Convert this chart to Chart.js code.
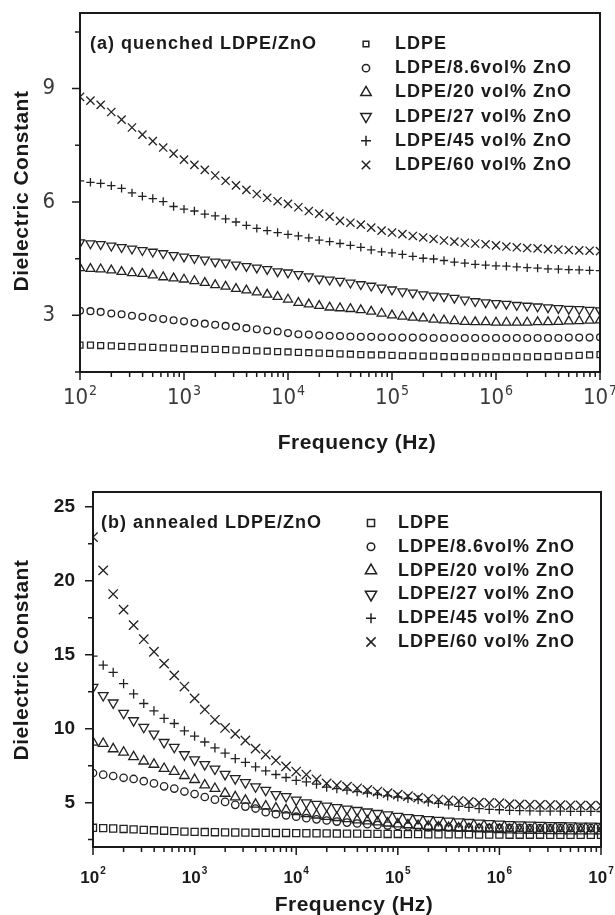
<!DOCTYPE html>
<html lang="en">
<head>
<meta charset="UTF-8">
<title>Dielectric constant of LDPE/ZnO vs frequency</title>
<script src="https://cdn.jsdelivr.net/npm/chart.js"></script>
<style>
  body { margin: 0; background: #fff; width: 615px; height: 915px; overflow: hidden; position: relative; }
  .panel { position: absolute; left: 0; width: 615px; }
  #panelA { top: 0; height: 460px; }
  #panelB { top: 460px; height: 455px; }
</style>
</head>
<body>
<div class="panel" id="panelA"><canvas id="chartA"></canvas></div>
<div class="panel" id="panelB"><canvas id="chartB"></canvas></div>

<script>
// measurement frequencies (Hz), 10 per decade from 1e2 to 1e7
const frequencies = [
  100, 126, 158, 200, 251, 316, 398, 501, 631, 794,
  1000, 1259, 1585, 1995, 2512, 3162, 3981, 5012, 6310, 7943,
  10000, 12589, 15849, 19953, 25119, 31623, 39811, 50119, 63096, 79433,
  100000, 125893, 158489, 199526, 251189, 316228, 398107, 501187, 630957, 794328,
  1000000, 1258925, 1584893, 1995262, 2511886, 3162278, 3981072, 5011872, 6309573, 7943282,
  10000000
];

const seriesLabels = ['LDPE', 'LDPE/8.6vol% ZnO', 'LDPE/20 vol% ZnO', 'LDPE/27 vol% ZnO', 'LDPE/45 vol% ZnO', 'LDPE/60 vol% ZnO'];
const pointStyles = ['rect', 'circle', 'triangle', 'triangle', 'cross', 'crossRot'];
const pointRotations = [0, 0, 0, 180, 0, 0];

// (a) quenched
const quenched0 = [2.21,2.21,2.20,2.19,2.18,2.17,2.16,2.15,2.14,2.13, 2.12,2.11,2.10,2.10,2.09,2.08,2.07,2.06,2.05,2.04, 2.03,2.02,2.01,2.00,1.99,1.98,1.97,1.96,1.95,1.95, 1.94,1.93,1.93,1.92,1.92,1.91,1.91,1.91,1.90,1.90, 1.90,1.90,1.90,1.90,1.91,1.91,1.92,1.93,1.94,1.95, 1.96];
const quenched86 = [3.12,3.11,3.09,3.05,3.03,2.99,2.96,2.93,2.90,2.87, 2.84,2.80,2.78,2.75,2.72,2.70,2.66,2.63,2.60,2.57, 2.53,2.50,2.49,2.47,2.46,2.45,2.44,2.43,2.43,2.42, 2.42,2.41,2.41,2.41,2.40,2.40,2.40,2.40,2.40,2.40, 2.40,2.40,2.40,2.40,2.40,2.40,2.40,2.41,2.41,2.41, 2.42];
const quenched20 = [4.25,4.23,4.22,4.19,4.15,4.12,4.10,4.06,4.01,3.98, 3.95,3.91,3.86,3.80,3.76,3.70,3.66,3.61,3.55,3.49, 3.42,3.33,3.29,3.25,3.21,3.19,3.17,3.14,3.10,3.05, 3.00,2.97,2.94,2.92,2.89,2.87,2.85,2.83,2.82,2.82, 2.81,2.81,2.81,2.81,2.82,2.82,2.83,2.84,2.85,2.86, 2.87];
const quenched27 = [4.93,4.90,4.88,4.84,4.80,4.76,4.72,4.68,4.64,4.59, 4.55,4.51,4.47,4.42,4.39,4.34,4.30,4.26,4.22,4.16, 4.13,4.09,4.03,3.97,3.94,3.91,3.86,3.82,3.78,3.73, 3.68,3.63,3.60,3.55,3.52,3.50,3.46,3.41,3.37,3.34, 3.32,3.30,3.27,3.25,3.23,3.21,3.19,3.17,3.16,3.14, 3.13];
const quenched45 = [6.56,6.52,6.49,6.43,6.36,6.24,6.15,6.09,6.01,5.88, 5.81,5.76,5.68,5.63,5.55,5.47,5.38,5.30,5.24,5.19, 5.14,5.10,5.05,4.99,4.95,4.90,4.85,4.80,4.73,4.68, 4.65,4.61,4.56,4.51,4.49,4.45,4.41,4.38,4.35,4.33, 4.31,4.30,4.28,4.26,4.25,4.23,4.22,4.21,4.20,4.19, 4.18];
const quenched60 = [8.78,8.68,8.57,8.38,8.18,7.97,7.78,7.61,7.44,7.28, 7.12,6.98,6.85,6.70,6.56,6.44,6.32,6.21,6.11,6.02, 5.95,5.86,5.76,5.69,5.61,5.50,5.45,5.40,5.32,5.24, 5.19,5.15,5.10,5.06,5.02,4.98,4.95,4.92,4.90,4.88, 4.85,4.82,4.80,4.78,4.77,4.75,4.74,4.73,4.72,4.71, 4.70];

// (b) annealed
const annealed0 = [3.30,3.28,3.25,3.22,3.19,3.16,3.13,3.10,3.07,3.04, 3.02,3.01,3.00,2.99,2.98,2.97,2.96,2.96,2.95,2.95, 2.94,2.93,2.93,2.92,2.91,2.90,2.90,2.89,2.89,2.88, 2.88,2.87,2.87,2.86,2.86,2.85,2.85,2.85,2.84,2.84, 2.84,2.83,2.83,2.83,2.83,2.82,2.82,2.82,2.82,2.82, 2.82];
const annealed86 = [7.00,6.89,6.80,6.68,6.60,6.45,6.30,6.10,5.95,5.75, 5.58,5.38,5.20,5.05,4.85,4.73,4.60,4.35,4.22,4.14, 4.05,3.95,3.87,3.79,3.72,3.65,3.59,3.54,3.49,3.45, 3.42,3.39,3.37,3.35,3.34,3.33,3.32,3.31,3.30,3.30, 3.29,3.29,3.29,3.28,3.28,3.28,3.28,3.28,3.28,3.28, 3.28];
const annealed20 = [9.07,8.99,8.63,8.40,8.09,7.80,7.58,7.30,7.10,6.82, 6.55,6.18,5.95,5.62,5.38,5.15,4.88,4.76,4.62,4.50, 4.38,4.25,4.15,4.06,3.98,3.90,3.82,3.75,3.68,3.61, 3.55,3.49,3.44,3.39,3.35,3.31,3.27,3.24,3.21,3.19, 3.17,3.15,3.13,3.12,3.11,3.10,3.09,3.08,3.08,3.07, 3.07];
const annealed27 = [12.80,12.25,11.75,11.05,10.55,10.10,9.65,9.08,8.75,8.25, 7.90,7.58,7.28,6.92,6.63,6.36,6.08,5.84,5.55,5.42, 5.18,5.00,4.90,4.78,4.68,4.58,4.48,4.38,4.28,4.18, 4.08,4.00,3.93,3.87,3.81,3.76,3.71,3.67,3.63,3.59, 3.56,3.53,3.51,3.49,3.47,3.46,3.45,3.44,3.43,3.42, 3.41];
const annealed45 = [14.90,14.30,13.80,13.05,12.35,11.70,11.20,10.70,10.35,9.85, 9.50,9.10,8.70,8.35,7.98,7.72,7.42,7.15,6.90,6.70, 6.50,6.40,6.25,6.05,5.95,5.85,5.75,5.65,5.55,5.45, 5.38,5.28,5.20,5.05,4.95,4.85,4.75,4.68,4.60,4.55, 4.52,4.48,4.46,4.44,4.43,4.42,4.42,4.41,4.41,4.41, 4.40];
const annealed60 = [22.95,20.70,19.10,18.05,17.00,16.05,15.20,14.40,13.60,12.85, 12.05,11.30,10.60,10.05,9.65,9.20,8.65,8.25,7.85,7.45, 7.10,6.90,6.58,6.30,6.18,6.08,5.97,5.86,5.75,5.64, 5.54,5.44,5.34,5.26,5.21,5.16,5.11,5.05,5.00,4.98, 4.96,4.90,4.88,4.86,4.85,4.84,4.83,4.82,4.81,4.80, 4.79];

// axis ticks
const xMajorTicks = [1e2, 1e3, 1e4, 1e5, 1e6, 1e7];
const xTickExponents = ['2', '3', '4', '5', '6', '7'];
const quenchedYTicks = [3, 6, 9];
const quenchedYMinor = [1.5, 4.5, 7.5, 10.5];
const annealedYTicks = [5, 10, 15, 20, 25];
const annealedYMinor = [2.5, 7.5, 12.5, 17.5, 22.5];

const INK = '#1a1a1a';
const MARK = '#222';
const SANS = '"Liberation Sans", Arial, Helvetica, sans-serif';
const NARROW = '"Liberation Sans Narrow", "DejaVu Sans Condensed", "Liberation Sans", sans-serif';

function decorations(p) {
  return {
    id: 'decorations',
    afterDraw(chart) {
      const ctx = chart.ctx;
      const a = chart.chartArea;
      const xs = chart.scales.x;
      const ys = chart.scales.y;
      ctx.save();
      ctx.strokeStyle = INK;
      ctx.fillStyle = INK;

      // box
      ctx.lineWidth = 2;
      ctx.strokeRect(a.left, a.top, a.right - a.left, a.bottom - a.top);

      // tick marks, outward
      ctx.lineWidth = 1.5;
      ctx.beginPath();
      xMajorTicks.forEach((v, i) => {
        const x = xs.getPixelForValue(v);
        ctx.moveTo(x, a.bottom); ctx.lineTo(x, a.bottom + 8);
        if (i < xMajorTicks.length - 1) {
          for (let m = 2; m < 10; m++) {
            const xm = xs.getPixelForValue(v * m);
            ctx.moveTo(xm, a.bottom); ctx.lineTo(xm, a.bottom + 5);
          }
        }
      });
      p.yTicks.forEach(v => {
        const y = ys.getPixelForValue(v);
        ctx.moveTo(a.left, y); ctx.lineTo(a.left - 8, y);
      });
      p.yMinor.forEach(v => {
        const y = ys.getPixelForValue(v);
        ctx.moveTo(a.left, y); ctx.lineTo(a.left - 5, y);
      });
      ctx.stroke();

      // y tick labels
      ctx.fillStyle = p.tickColor;
      ctx.font = p.yTickFont;
      ctx.textAlign = 'right';
      ctx.textBaseline = 'middle';
      p.yTicks.forEach(v => ctx.fillText(String(v), p.yLabelRight, ys.getPixelForValue(v)));

      // x tick labels 10^n
      ctx.textAlign = 'left';
      ctx.textBaseline = 'alphabetic';
      xMajorTicks.forEach((v, i) => {
        const x = xs.getPixelForValue(v);
        ctx.font = p.xBaseFont;
        const wb = ctx.measureText('10').width;
        ctx.font = p.xSupFont;
        const ws = ctx.measureText(xTickExponents[i]).width;
        const x0 = x - (wb + ws + 1) / 2;
        ctx.font = p.xBaseFont;
        ctx.fillText('10', x0, p.xLabelBase);
        ctx.font = p.xSupFont;
        ctx.fillText(xTickExponents[i], x0 + wb + 1, p.xLabelBase - p.supRaise);
      });

      // axis titles
      ctx.fillStyle = INK;
      ctx.font = 'bold 21px ' + SANS;
      ctx.letterSpacing = '0.5px';
      ctx.textAlign = 'center';
      ctx.textBaseline = 'middle';
      ctx.fillText('Frequency (Hz)', p.xTitle[0], p.xTitle[1]);
      ctx.save();
      ctx.translate(p.yTitle[0], p.yTitle[1]);
      ctx.rotate(-Math.PI / 2);
      ctx.fillText('Dielectric Constant', 0, 0);
      ctx.restore();

      // panel note and legend
      ctx.font = 'bold 18px ' + SANS;
      ctx.letterSpacing = '1px';
      ctx.textAlign = 'left';
      ctx.fillText(p.note, p.noteX, p.legendY);
      seriesLabels.forEach((label, i) => {
        const y = p.legendY + i * p.legendStep;
        ctx.fillText(label, p.legendTextX, y);
        ctx.strokeStyle = MARK;
        ctx.fillStyle = 'rgba(0,0,0,0)';
        Chart.helpers.drawPoint(ctx, {
          pointStyle: pointStyles[i],
          rotation: pointRotations[i],
          radius: p.legendRadii[i],
          borderWidth: 1.3
        }, p.legendMarkX, y);
        ctx.fillStyle = INK;
      });
      ctx.restore();
    }
  };
}

function makeChart(id, p) {
  return new Chart(document.getElementById(id), {
    type: 'scatter',
    data: {
      datasets: p.series.map((vals, i) => ({
        label: seriesLabels[i],
        data: frequencies.map((f, k) => ({ x: f, y: vals[k] })),
        pointStyle: pointStyles[i],
        pointRotation: pointRotations[i],
        pointRadius: p.radii[i],
        pointBorderWidth: 1.3,
        pointBorderColor: MARK,
        pointBackgroundColor: 'rgba(0,0,0,0)',
        showLine: false
      }))
    },
    options: {
      responsive: true,
      maintainAspectRatio: false,
      animation: false,
      events: [],
      layout: { padding: p.padding },
      plugins: { legend: { display: false }, tooltip: { enabled: false } },
      scales: {
        x: {
          type: 'logarithmic', min: 100, max: 1e7,
          grid: { display: false }, border: { display: false }, ticks: { display: false },
          afterFit: s => { s.height = p.xAxisHeight; }
        },
        y: {
          min: p.yMin, max: p.yMax,
          grid: { display: false }, border: { display: false }, ticks: { display: false },
          afterFit: s => { s.width = p.yAxisWidth; }
        }
      }
    },
    plugins: [decorations(p)]
  });
}

makeChart('chartA', {
  series: [quenched0, quenched86, quenched20, quenched27, quenched45, quenched60],
  radii: [4.2, 3.4, 5.2, 5.2, 4.2, 5.8],
  legendRadii: [4, 3.6, 6, 6, 5, 6],
  yMin: 1.5, yMax: 11,
  yTicks: quenchedYTicks, yMinor: quenchedYMinor,
  padding: { top: 13, right: 15, left: 0, bottom: 0 },
  yAxisWidth: 80, xAxisHeight: 88,
  tickColor: '#3a3a3a',
  yTickFont: '22px ' + NARROW, yLabelRight: 55,
  xBaseFont: '22px ' + NARROW, xSupFont: '14px ' + NARROW, xLabelBase: 404, supRaise: 9,
  xTitle: [357, 443], yTitle: [22, 191],
  note: '(a) quenched LDPE/ZnO', noteX: 90,
  legendY: 44, legendStep: 24.2, legendMarkX: 366, legendTextX: 395
});

makeChart('chartB', {
  series: [annealed0, annealed86, annealed20, annealed27, annealed45, annealed60],
  radii: [5, 3.7, 5.6, 5.6, 4.6, 6.6],
  legendRadii: [5, 3.8, 6.5, 6.5, 5, 6.5],
  yMin: 2, yMax: 26,
  yTicks: annealedYTicks, yMinor: annealedYMinor,
  padding: { top: 32, right: 14, left: 0, bottom: 0 },
  yAxisWidth: 93, xAxisHeight: 68,
  tickColor: INK,
  yTickFont: 'bold 19px ' + SANS, yLabelRight: 75,
  xBaseFont: 'bold 17px ' + SANS, xSupFont: 'bold 10px ' + SANS, xLabelBase: 423, supRaise: 9,
  xTitle: [354, 445], yTitle: [22, 200],
  note: '(b) annealed LDPE/ZnO', noteX: 101,
  legendY: 63, legendStep: 23.8, legendMarkX: 371, legendTextX: 398
});
</script>
</body>
</html>
